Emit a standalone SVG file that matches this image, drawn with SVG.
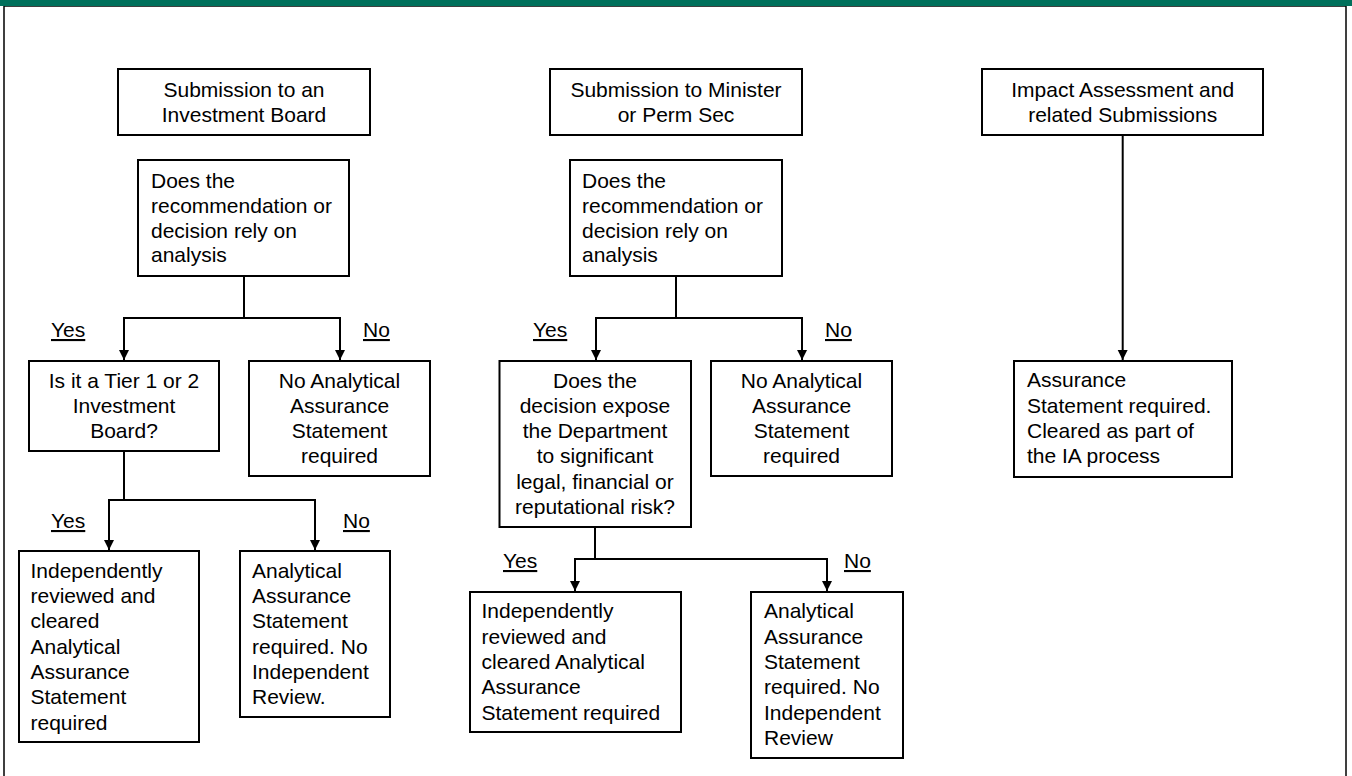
<svg xmlns="http://www.w3.org/2000/svg" width="1352" height="776" viewBox="0 0 1352 776">
<style>
.box{fill:#fff;stroke:#000;stroke-width:2}
.t{font-family:"Liberation Sans",Arial,sans-serif;font-size:21px;fill:#000}
.c{text-anchor:middle}
.lbl{font-family:"Liberation Sans",Arial,sans-serif;font-size:21px;fill:#000;text-decoration:underline}
.ln{fill:none;stroke:#000;stroke-width:2}
.ar{fill:none;stroke:#000;stroke-width:2;marker-end:url(#arr)}
</style>
<defs>
<marker id="arr" markerUnits="userSpaceOnUse" markerWidth="11" markerHeight="11" refX="10" refY="5" orient="auto">
<path d="M0,0 L10,5 L0,10 z" fill="#000"/>
</marker>
</defs>
<rect x="0" y="0" width="1352" height="776" fill="#fff"/>
<rect x="4" y="6" width="1342" height="800" fill="#fff" stroke="#000" stroke-width="1.5"/>
<rect x="0" y="0" width="1352" height="6" fill="#00705B"/>

<g id="connectors">
<path class="ln" d="M244,276 V318"/>
<path class="ar" d="M244,318 H124 V360"/>
<path class="ar" d="M244,318 H340 V360"/>
<path class="ln" d="M124,451 V500"/>
<path class="ar" d="M124,500 H109 V550"/>
<path class="ar" d="M124,500 H315 V550"/>
<path class="ln" d="M676,276 V318"/>
<path class="ar" d="M676,318 H596 V360"/>
<path class="ar" d="M676,318 H802 V360"/>
<path class="ln" d="M595,527 V559"/>
<path class="ar" d="M595,559 H575 V591"/>
<path class="ar" d="M595,559 H827 V591"/>
<path class="ar" d="M1122.7,135 V360"/>
</g>

<g id="labels">
<text class="lbl" x="51" y="337">Yes</text>
<text class="lbl" x="363" y="337">No</text>
<text class="lbl" x="51" y="528">Yes</text>
<text class="lbl" x="343" y="528">No</text>
<text class="lbl" x="533" y="337">Yes</text>
<text class="lbl" x="825" y="337">No</text>
<text class="lbl" x="503" y="568">Yes</text>
<text class="lbl" x="844" y="568">No</text>
</g>

<g id="a1">
<rect class="box" x="118" y="69" width="252" height="66"/>
<text class="t c"><tspan x="244" y="96.7">Submission to an</tspan><tspan x="244" y="121.7">Investment Board</tspan></text>
</g>
<g id="a2">
<rect class="box" x="138" y="160" width="211" height="116"/>
<text class="t"><tspan x="151" y="188.3">Does the</tspan><tspan x="151" y="213">recommendation or</tspan><tspan x="151" y="237.5">decision rely on</tspan><tspan x="151" y="262">analysis</tspan></text>
</g>
<g id="a3">
<rect class="box" x="29" y="361" width="190" height="90"/>
<text class="t c"><tspan x="124" y="387.7">Is it a Tier 1 or 2</tspan><tspan x="124" y="412.7">Investment</tspan><tspan x="124" y="438">Board?</tspan></text>
</g>
<g id="a4">
<rect class="box" x="249" y="361" width="181" height="115"/>
<text class="t c"><tspan x="339.5" y="387.7">No Analytical</tspan><tspan x="339.5" y="412.7">Assurance</tspan><tspan x="339.5" y="438">Statement</tspan><tspan x="339.5" y="463.3">required</tspan></text>
</g>
<g id="a5">
<rect class="box" x="19" y="551" width="180" height="191"/>
<text class="t"><tspan x="30.5" y="577.7">Independently</tspan><tspan x="30.5" y="603">reviewed and</tspan><tspan x="30.5" y="628.3">cleared</tspan><tspan x="30.5" y="653.6">Analytical</tspan><tspan x="30.5" y="679">Assurance</tspan><tspan x="30.5" y="704.3">Statement</tspan><tspan x="30.5" y="729.6">required</tspan></text>
</g>
<g id="a6">
<rect class="box" x="240" y="551" width="150" height="166"/>
<text class="t"><tspan x="252" y="577.7">Analytical</tspan><tspan x="252" y="603">Assurance</tspan><tspan x="252" y="628.3">Statement</tspan><tspan x="252" y="653.6">required. No</tspan><tspan x="252" y="679">Independent</tspan><tspan x="252" y="704.3">Review.</tspan></text>
</g>

<g id="b1">
<rect class="box" x="550" y="69" width="252" height="66"/>
<text class="t c"><tspan x="676" y="96.7">Submission to Minister</tspan><tspan x="676" y="121.7">or Perm Sec</tspan></text>
</g>
<g id="b2">
<rect class="box" x="570" y="160" width="212" height="116"/>
<text class="t"><tspan x="582" y="188.3">Does the</tspan><tspan x="582" y="213">recommendation or</tspan><tspan x="582" y="237.5">decision rely on</tspan><tspan x="582" y="262">analysis</tspan></text>
</g>
<g id="b3">
<rect class="box" x="499.5" y="361" width="191.5" height="166"/>
<text class="t c"><tspan x="595" y="387.7">Does the</tspan><tspan x="595" y="412.7">decision expose</tspan><tspan x="595" y="438">the Department</tspan><tspan x="595" y="463.3">to significant</tspan><tspan x="595" y="488.6">legal, financial or</tspan><tspan x="595" y="514">reputational risk?</tspan></text>
</g>
<g id="b4">
<rect class="box" x="711" y="361" width="181" height="115"/>
<text class="t c"><tspan x="801.5" y="387.7">No Analytical</tspan><tspan x="801.5" y="412.7">Assurance</tspan><tspan x="801.5" y="438">Statement</tspan><tspan x="801.5" y="463.3">required</tspan></text>
</g>
<g id="b5">
<rect class="box" x="470" y="592" width="211" height="140"/>
<text class="t"><tspan x="481.5" y="618.3">Independently</tspan><tspan x="481.5" y="643.6">reviewed and</tspan><tspan x="481.5" y="669">cleared Analytical</tspan><tspan x="481.5" y="694.3">Assurance</tspan><tspan x="481.5" y="719.6">Statement required</tspan></text>
</g>
<g id="b6">
<rect class="box" x="751" y="592" width="152" height="166"/>
<text class="t"><tspan x="764" y="618.3">Analytical</tspan><tspan x="764" y="643.6">Assurance</tspan><tspan x="764" y="669">Statement</tspan><tspan x="764" y="694.3">required. No</tspan><tspan x="764" y="719.6">Independent</tspan><tspan x="764" y="745">Review</tspan></text>
</g>

<g id="c1">
<rect class="box" x="982" y="69" width="281" height="66"/>
<text class="t c"><tspan x="1122.7" y="96.7">Impact Assessment and</tspan><tspan x="1122.7" y="121.7">related Submissions</tspan></text>
</g>
<g id="c2">
<rect class="box" x="1014" y="361" width="218" height="116"/>
<text class="t"><tspan x="1027" y="387.3">Assurance</tspan><tspan x="1027" y="412.6">Statement required.</tspan><tspan x="1027" y="438">Cleared as part of</tspan><tspan x="1027" y="463.3">the IA process</tspan></text>
</g>
</svg>
